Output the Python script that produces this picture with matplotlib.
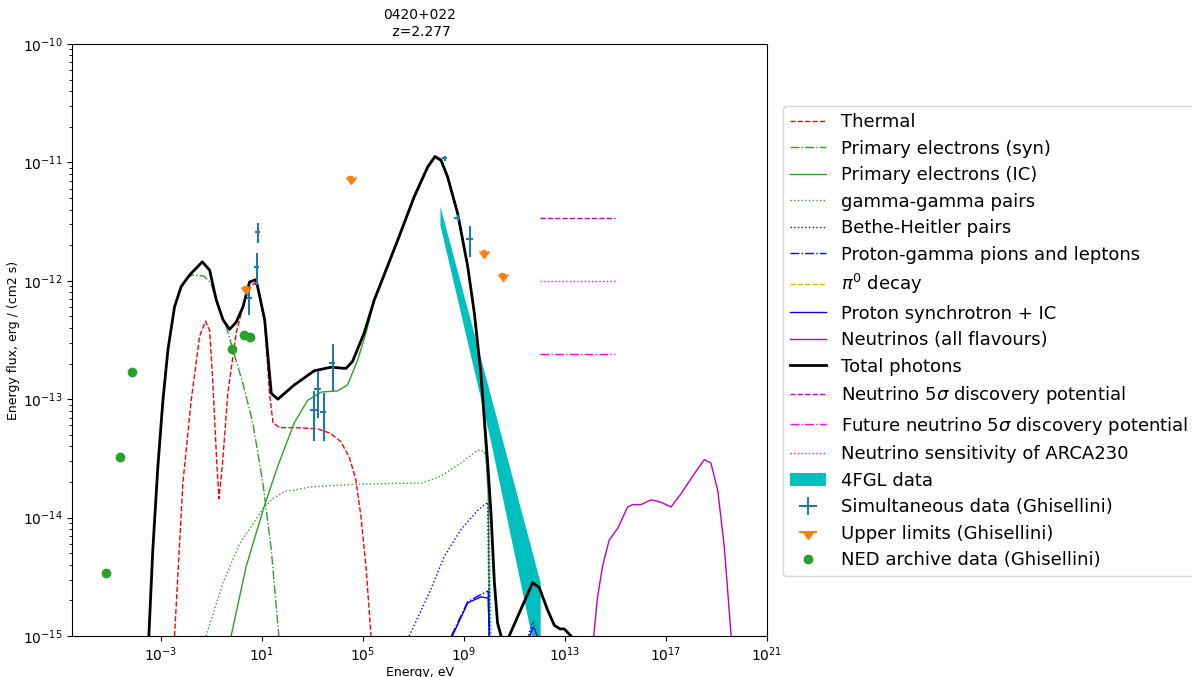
import matplotlib
matplotlib.use('Agg')
import matplotlib.pyplot as plt
import matplotlib.lines as mlines
import numpy as np

# model curves, log10(E/eV) and log10(flux)
tot_logE = [-3.52, -3.32, -3.12, -2.92, -2.72, -2.46, -2.20, -1.86, -1.36, -1.07, -0.81, -0.54,
            -0.28, -0.02, 0.25, 0.51, 0.77, 1.11, 1.37, 1.63, 2.28, 3.07, 3.73, 4.33, 4.59, 5.05,
            5.45, 5.71, 6.37, 7.03, 7.56, 7.85, 8.09, 8.35, 8.75, 9.15, 9.41, 9.67, 9.87, 9.94,
            10.07, 10.20, 10.33, 10.47, 10.60, 10.79, 11.72, 11.98, 12.31, 12.58, 12.80, 12.97, 13.24]
tot_logF = [-15.2, -14.27, -13.57, -13.01, -12.58, -12.22, -12.05, -11.95, -11.84, -11.91, -12.16, -12.33,
            -12.41, -12.35, -12.22, -12.01, -11.99, -12.33, -12.95, -13.00, -12.88, -12.76, -12.73, -12.74, -12.68, -12.44,
            -12.16, -12.02, -11.66, -11.29, -11.04, -10.95, -10.98, -11.12, -11.43, -11.88, -12.27, -12.78, -13.34, -13.54,
            -13.96, -14.53, -14.89, -15.0, -16.0, -15.0, -14.55, -14.59, -14.78, -14.91, -14.94, -14.94, -15.0]

th_logE = [-2.46, -2.13, -1.80, -1.47, -1.23, -1.07, -0.94, -0.78, -0.70, -0.57, -0.35, -0.02, 0.25,
           0.45, 0.70, 0.85, 1.11, 1.30, 1.44, 1.70, 2.28, 3.21, 3.73, 4.13, 4.46, 4.72, 4.92, 5.12, 5.32]
th_logF = [-15.0, -13.71, -13.01, -12.47, -12.34, -12.42, -12.87, -13.57, -13.84, -13.57, -12.95, -12.44, -12.22,
           -12.07, -12.02, -12.05, -12.36, -12.95, -13.20, -13.24, -13.24, -13.25, -13.29, -13.36, -13.49, -13.68,
           -13.99, -14.41, -15.0]

syn_logE = [-2.01, -1.74, -1.30, -1.02, -0.76, -0.41, -0.15, 0.25, 0.64, 1.04, 1.37, 1.67]
syn_logF = [-11.98, -11.95, -11.96, -12.02, -12.20, -12.39, -12.58, -12.87, -13.20, -13.71, -14.27, -15.0]

ic_logE = [-0.22, 0.38, 1.04, 1.62, 2.28, 2.81, 3.34, 4.00, 4.39, 4.79, 5.12, 5.45, 5.71, 6.37, 7.03,
           7.56, 7.85, 8.09, 8.35, 8.75, 9.15, 9.41, 9.67, 9.85, 9.96, 10.02]
ic_logF = [-15.0, -14.41, -13.94, -13.57, -13.20, -13.01, -12.94, -12.93, -12.88, -12.67, -12.44, -12.17, -12.03,
           -11.67, -11.30, -11.05, -10.96, -10.99, -11.13, -11.44, -11.89, -12.28, -12.80, -13.40, -13.79, -15.0]

gg_logE = [-1.21, -0.54, 0.12, 0.56, 1.09, 1.44, 1.88, 2.23, 2.94, 4.52, 6.50, 7.30, 8.09, 8.88, 9.54,
           9.80, 9.96, 10.07, 10.30, 11.59, 11.79, 11.98]
gg_logF = [-15.0, -14.55, -14.22, -14.08, -13.91, -13.84, -13.78, -13.77, -13.74, -13.72, -13.71, -13.71,
           -13.65, -13.54, -13.43, -13.44, -13.57, -15.0, -16.0, -15.0, -14.86, -15.0]

bh_logE = [6.83, 7.62, 8.22, 8.88, 9.54, 9.94, 10.00, 10.20, 11.55, 11.72, 11.90]
bh_logF = [-15.0, -14.64, -14.33, -14.10, -13.94, -13.87, -15.0, -16.0, -15.0, -14.88, -15.0]

pg_logE = [8.50, 9.15, 9.67, 9.96, 10.00, 10.20, 11.60, 11.75, 11.90]
pg_logF = [-15.0, -14.71, -14.65, -14.62, -15.0, -16.0, -15.0, -14.92, -15.0]

pi0_logE = []
pi0_logF = []

ps_logE = [8.54, 9.15, 9.67, 9.96, 10.00]
ps_logF = [-15.0, -14.72, -14.67, -14.68, -15.0]

nu_logE = [14.14, 14.29, 14.49, 14.75, 15.09, 15.48, 15.68, 16.01, 16.41, 16.80, 17.20, 17.59,
           18.12, 18.52, 18.78, 19.05, 19.31, 19.58]
nu_logF = [-15.0, -14.67, -14.41, -14.19, -14.09, -13.91, -13.89, -13.89, -13.85, -13.87, -13.91, -13.80,
           -13.63, -13.51, -13.54, -13.77, -14.25, -15.0]

# neutrino limits (1 TeV - 1 PeV)
lim_E = [1e12, 1e15]
disc_F = 3.4e-12
future_F = 2.4e-13
sens_F = 1.0e-12

# 4FGL butterfly
fgl_logE = [8.05, 10.04, 12.02]
fgl_up = [-11.37, -12.96, -14.55]
fgl_lo = [-11.53, -13.34, -15.35]

# Ghisellini data
sim_E = [6.8, 6.2, 3.2, 1.17e3, 1.62e3, 2.75e3, 6.3e3, 1.78e8, 5.6e8, 1.74e9]
sim_F = [2.6e-12, 1.32e-12, 7.1e-13, 8.1e-14, 1.21e-13, 7.85e-14, 2.04e-13, 1.08e-11, 3.4e-12, 2.24e-12]
sim_Ferr = [0.5e-12, 0.39e-12, 0.2e-12, 3.7e-14, 5.2e-14, 3.4e-14, 8.6e-14, 0.6e-12, 0.18e-12, 0.64e-12]
sim_Eerr = [1.5, 1.4, 0.7, 350, 480, 800, 1800, 0.45e8, 1.7e8, 0.5e9]

ul_E = [2.34, 3.3e4, 6.3e9, 3.4e10]
ul_F = [8.8e-13, 7.6e-12, 1.78e-12, 1.15e-12]
ul_Eerr = [0.5, 0.7e4, 1.3e9, 0.7e10]

ned_E = [6.8e-6, 2.3e-5, 7.2e-5, 0.66, 2.04, 3.24]
ned_F = [3.4e-15, 3.27e-14, 1.7e-13, 2.65e-13, 3.48e-13, 3.33e-13]

green = '#2ca02c'


def p(a):
    return 10 ** np.array(a, dtype=float)


fig = plt.figure(figsize=(11.92, 6.77), dpi=100)
ax = fig.add_axes([72 / 1192, 41 / 677, 695 / 1192, 592 / 677])

h = []
h += ax.plot(p(th_logE), p(th_logF), 'r--', lw=1, label='Thermal')
h += ax.plot(p(syn_logE), p(syn_logF), '-.', color=green, lw=1, label='Primary electrons (syn)')
h += ax.plot(p(ic_logE), p(ic_logF), '-', color=green, lw=1, label='Primary electrons (IC)')
h += ax.plot(p(gg_logE), p(gg_logF), ':', color=green, lw=1, label='gamma-gamma pairs')
h += ax.plot(p(bh_logE), p(bh_logF), 'b:', lw=1, label='Bethe-Heitler pairs')
h += ax.plot(p(pg_logE), p(pg_logF), 'b-.', lw=1, label='Proton-gamma pions and leptons')
h += ax.plot(p(pi0_logE), p(pi0_logF), 'y--', lw=1, label=r'$\pi^0$ decay')
h += ax.plot(p(ps_logE), p(ps_logF), 'b-', lw=1, label='Proton synchrotron + IC')
h += ax.plot(p(nu_logE), p(nu_logF), 'm-', lw=1, label='Neutrinos (all flavours)')
h += ax.plot(p(tot_logE), p(tot_logF), 'k-', lw=2, label='Total photons')
h += ax.plot(lim_E, [disc_F, disc_F], '--', color='m', lw=1,
             label=r'Neutrino 5$\sigma$ discovery potential')
h += ax.plot(lim_E, [future_F, future_F], '-.', color='magenta', lw=1,
             label=r'Future neutrino 5$\sigma$ discovery potential')
h += ax.plot(lim_E, [sens_F, sens_F], ':', color='magenta', lw=1,
             label='Neutrino sensitivity of ARCA230')
h.append(ax.fill_between(p(fgl_logE), p(fgl_lo), p(fgl_up), color='c', lw=0, label='4FGL data'))
h.append(ax.errorbar(sim_E, sim_F, yerr=sim_Ferr, xerr=sim_Eerr, fmt='none', ecolor='C0',
                     elinewidth=1.5, label='Simultaneous data (Ghisellini)'))
h.append(ax.errorbar(ul_E, ul_F, xerr=ul_Eerr, fmt=' ', marker=mlines.CARETDOWNBASE, ms=7,
                     color='C1', ecolor='C1', elinewidth=1.5, label='Upper limits (Ghisellini)'))
h.append(ax.errorbar(ned_E, ned_F, fmt='o', color='C2', ms=6, label='NED archive data (Ghisellini)'))

ax.set_xscale('log')
ax.set_yscale('log')
ax.set_xlim(10 ** -6.52, 1e21)
ax.set_ylim(1e-15, 1e-10)
ax.set_xticks([1e-3, 1e1, 1e5, 1e9, 1e13, 1e17, 1e21])
ax.xaxis.set_minor_locator(matplotlib.ticker.NullLocator())
ax.set_xlabel('Energy, eV', fontsize=9, labelpad=1)
ax.set_ylabel('Energy flux, erg / (cm2 s)', fontsize=9, labelpad=2)
ax.set_title('0420+022\n z=2.277', fontsize=10)

fig.legend(handles=h, loc='upper left', bbox_to_anchor=(783 / 1192, 1 - 106 / 677),
           borderaxespad=0, fontsize=13, labelspacing=0.47)

fig.savefig('out.png', dpi=100)
